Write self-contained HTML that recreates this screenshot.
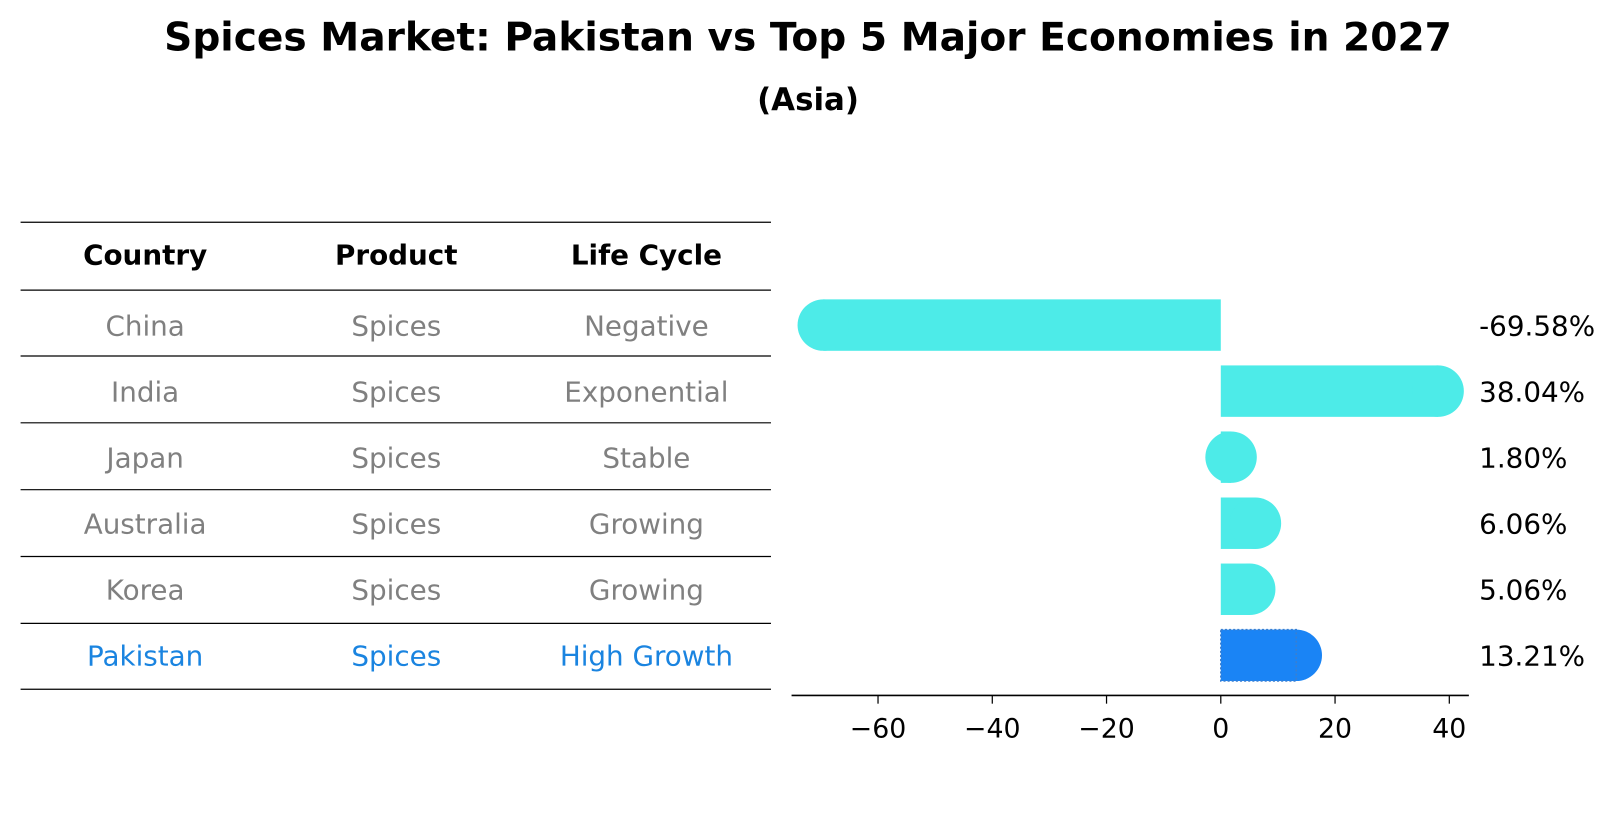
<!DOCTYPE html>
<html><head><meta charset="utf-8"><style>
body{margin:0;background:#fff;width:1614px;height:823px;overflow:hidden;font-family:"DejaVu Sans","Liberation Sans",sans-serif}
</style></head><body>
<svg width="1614" height="823" viewBox="0 0 1568 800" preserveAspectRatio="none" xmlns="http://www.w3.org/2000/svg" font-family="DejaVu Sans, Liberation Sans, sans-serif" style="display:block">
<text x="785" y="49" text-anchor="middle" font-size="38" font-weight="bold">Spices Market: Pakistan vs Top 5 Major Economies in 2027</text>
<text x="785" y="107" text-anchor="middle" font-size="30" font-weight="bold">(Asia)</text>
<g id="table"></g>
<g id="bars"></g>
<g id="axis"></g>
</svg>
<script>
const countries=["China","India","Japan","Australia","Korea","Pakistan"];
const products=["Spices","Spices","Spices","Spices","Spices","Spices"];
const lifeCycles=["Negative","Exponential","Stable","Growing","Growing","High Growth"];
const values=[-69.58,38.04,1.80,6.06,5.06,13.21];
const tickValues=[-60,-40,-20,0,20,40];
const NS="http://www.w3.org/2000/svg";
function mk(tag,attrs,parent){const e=document.createElementNS(NS,tag);for(const k in attrs)e.setAttribute(k,attrs[k]);parent.appendChild(e);return e;}
const xScale=v=>1186+v*5.55;
const rowY=i=>316+i*64.2;
const table=document.getElementById('table');
const lineYs=[216,282,346,411,476,541,606,670];
lineYs.forEach((y,i)=>{const l=mk('line',{x1:20,x2:749,y1:y,y2:y,stroke:'#000','stroke-width':1.2},table);

});
const colX=[141,385,628];
["Country","Product","Life Cycle"].forEach((h,j)=>{const t=mk('text',{x:colX[j],y:257,'text-anchor':'middle','font-size':27,'font-weight':'bold'},table);t.textContent=h;

});
countries.forEach((c,i)=>{const y=rowY(i)+10;const col=c==="Pakistan"?"#1a84e0":"#808080";
[c,products[i],lifeCycles[i]].forEach((s,j)=>{const t=mk('text',{x:colX[j],y:y,'text-anchor':'middle','font-size':27,fill:col},table);t.textContent=s;

});});
const bars=document.getElementById('bars');
values.forEach((v,i)=>{const cy=rowY(i);const x0=xScale(0),x1=xScale(v);const col=countries[i]==="Pakistan"?"#1a84f5":"#4debe8";
const g=mk('g',{},bars);


mk('rect',{x:Math.min(x0,x1),y:cy-25,width:Math.abs(x1-x0),height:50,fill:col},g);
mk('circle',{cx:x1,cy:cy,r:25,fill:col},g);
if(countries[i]==="Pakistan"){mk('rect',{x:x0,y:cy-25,width:x1-x0,height:50,fill:'none',stroke:'#3a7fd0','stroke-width':1.5,'stroke-dasharray':'2 2'},g);}
const t=mk('text',{x:1437,y:cy+10,'font-size':27},bars);t.textContent=v.toFixed(2)+'%';

});
const ax=document.getElementById('axis');
mk('line',{x1:769,x2:1427,y1:676,y2:676,stroke:'#000','stroke-width':1.5},ax);
tickValues.forEach(v=>{const x=xScale(v);mk('line',{x1:x,x2:x,y1:676,y2:684,stroke:'#000','stroke-width':1.2},ax);
const t=mk('text',{x:x,y:717,'text-anchor':'middle','font-size':26},ax);t.textContent=v<0?'\u2212'+Math.abs(v):String(v);

});
</script>
</body></html>
